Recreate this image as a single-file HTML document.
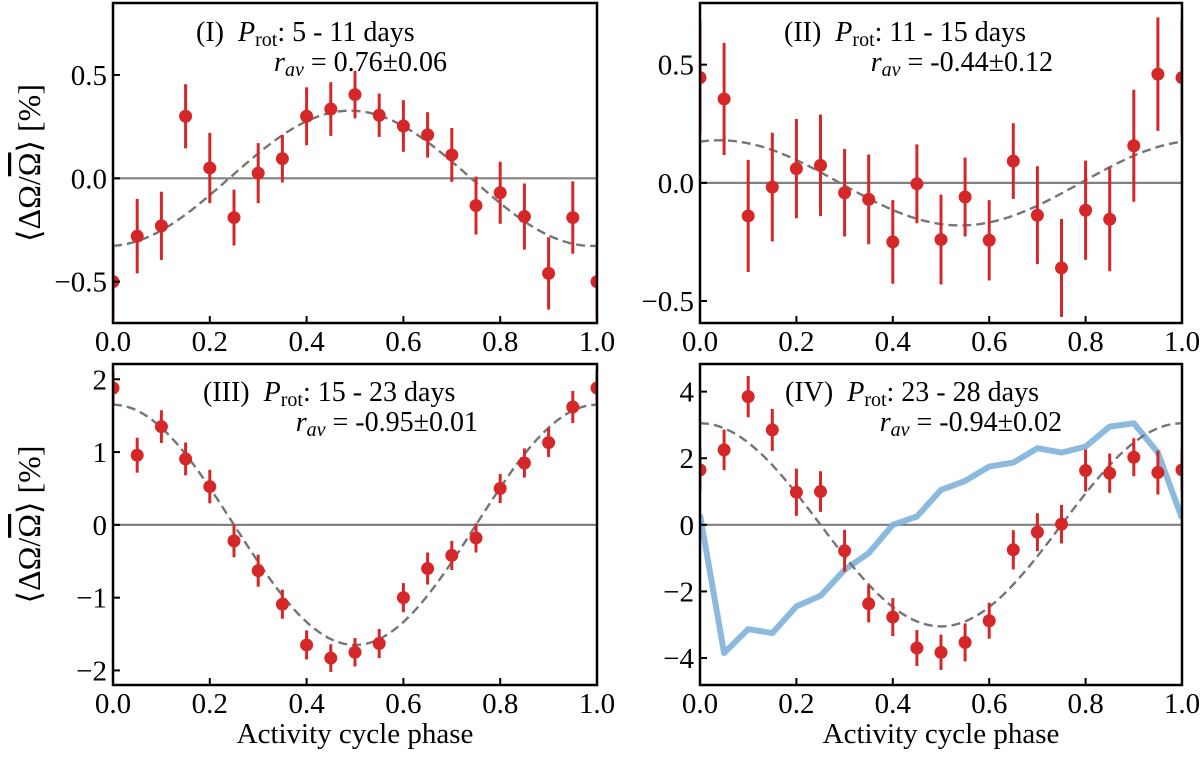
<!DOCTYPE html>
<html><head><meta charset="utf-8"><style>
html,body{margin:0;padding:0;background:#fff;}
svg, svg text{font-family:"Liberation Serif","DejaVu Serif",serif;}
</style></head><body>
<svg id="chart" width="1200" height="753" viewBox="0 0 1200 753" xmlns="http://www.w3.org/2000/svg" font-family="Liberation Serif, DejaVu Serif, serif"></svg>
<script>
const phases = [0,0.05,0.1,0.15,0.2,0.25,0.3,0.35,0.4,0.45,0.5,0.55,0.6,0.65,0.7,0.75,0.8,0.85,0.9,0.95,1.0];
const valsI = [-0.5,-0.28,-0.23,0.30,0.05,-0.19,0.025,0.095,0.30,0.335,0.405,0.305,0.253,0.21,0.113,-0.132,-0.07,-0.185,-0.46,-0.19,-0.5];
const errsI = [0.18,0.18,0.165,0.155,0.17,0.135,0.145,0.115,0.14,0.13,0.115,0.105,0.125,0.11,0.13,0.14,0.15,0.16,0.175,0.175,0.18];
const valsII = [0.445,0.355,-0.14,-0.018,0.06,0.074,-0.042,-0.07,-0.25,-0.004,-0.24,-0.06,-0.243,0.092,-0.137,-0.36,-0.116,-0.154,0.157,0.46,0.445];
const errsII = [0.24,0.237,0.237,0.23,0.21,0.215,0.185,0.19,0.177,0.167,0.19,0.167,0.17,0.16,0.207,0.207,0.21,0.22,0.237,0.24,0.24];
const valsIII = [1.88,0.957,1.35,0.906,0.526,-0.22,-0.63,-1.09,-1.65,-1.83,-1.75,-1.63,-1.0,-0.6,-0.42,-0.18,0.5,0.85,1.13,1.62,1.88];
const errsIII = [0.24,0.24,0.225,0.225,0.23,0.225,0.22,0.2,0.2,0.19,0.195,0.2,0.2,0.22,0.2,0.2,0.2,0.2,0.2,0.22,0.24];
const valsIV = [1.65,2.25,3.85,2.85,0.98,1.0,-0.78,-2.37,-2.77,-3.7,-3.83,-3.53,-2.88,-0.75,-0.22,0.02,1.63,1.55,2.03,1.57,1.65];
const errsIV = [0.62,0.61,0.62,0.63,0.71,0.61,0.63,0.56,0.57,0.54,0.53,0.57,0.54,0.59,0.57,0.58,0.63,0.59,0.57,0.66,0.62];
const blueIV = [0.3,-3.85,-3.13,-3.25,-2.45,-2.13,-1.35,-0.85,0,0.25,1.05,1.32,1.75,1.87,2.3,2.17,2.35,2.95,3.05,2.17,0.2];
const fitAmp = [0.327,0.18,1.65,3.05];
const fitPhase = [0.49,0.04,0.0,0.0];
const xTicks = [0,0.2,0.4,0.6,0.8,1.0];
const xTickLabels = ["0.0","0.2","0.4","0.6","0.8","1.0"];
const yTicksI = [-0.5,0,0.5]; const yLabI = ["\u22120.5","0.0","0.5"];
const yTicksII = [-0.5,0,0.5]; const yLabII = ["\u22120.5","0.0","0.5"];
const yTicksIII = [-2,-1,0,1,2]; const yLabIII = ["\u22122","\u22121","0","1","2"];
const yTicksIV = [-4,-2,0,2,4]; const yLabIV = ["\u22124","\u22122","0","2","4"];

const NS="http://www.w3.org/2000/svg";
const FF="Liberation Serif, DejaVu Serif, serif";
const svg=document.getElementById('chart');
function mk(tag,attrs,parent){const e=document.createElementNS(NS,tag);for(const k in attrs)e.setAttribute(k,attrs[k]);if(tag==='text')e.setAttribute('font-family',FF);(parent||svg).appendChild(e);return e;}

const panels=[
 {id:'i',x0:113,x1:597,y0:3,y1:323,ymin:-0.70,ymax:0.848,vals:valsI,errs:errsI,yt:yTicksI,yl:yLabI,label:'(I)',range:'5 - 11 days',r:'0.76\u00b10.06',tx:196,ty:41,rx:447,xlab:false},
 {id:'ii',x0:700,x1:1182,y0:3,y1:323,ymin:-0.593,ymax:0.761,vals:valsII,errs:errsII,yt:yTicksII,yl:yLabII,label:'(II)',range:'11 - 15 days',r:'-0.44\u00b10.12',tx:784,ty:41,rx:1053,xlab:false},
 {id:'iii',x0:113,x1:597,y0:364,y1:685,ymin:-2.20,ymax:2.21,vals:valsIII,errs:errsIII,yt:yTicksIII,yl:yLabIII,label:'(III)',range:'15 - 23 days',r:'-0.95\u00b10.01',tx:203,ty:401,rx:478,xlab:true},
 {id:'iv',x0:700,x1:1182,y0:364,y1:685,ymin:-4.81,ymax:4.83,vals:valsIV,errs:errsIV,yt:yTicksIV,yl:yLabIV,label:'(IV)',range:'23 - 28 days',r:'-0.94\u00b10.02',tx:785,ty:401,rx:1062,xlab:true}
];

panels.forEach((p,pi)=>{
  const X=v=>p.x0+(p.x1-p.x0)*v;
  const Y=v=>p.y1-(v-p.ymin)/(p.ymax-p.ymin)*(p.y1-p.y0);
  const g=mk('g',{});
  
  
  const defs=mk('defs',{},g);
  const cp=mk('clipPath',{id:'clip'+p.id},defs);
  mk('rect',{x:p.x0,y:p.y0,width:p.x1-p.x0,height:p.y1-p.y0},cp);
  const plot=mk('g',{'clip-path':'url(#clip'+p.id+')'},g);
  
  
  const z=mk('line',{x1:p.x0,x2:p.x1,y1:Y(0),y2:Y(0),stroke:'#808080','stroke-width':2.2},plot);
  
  
  if(p.id==='iv'){
    const pts=phases.map((x,i)=>X(x).toFixed(1)+','+Y(blueIV[i]).toFixed(1)).join(' ');
    const bl=mk('polyline',{points:pts,fill:'none',stroke:'#7fb2da','stroke-opacity':0.9,'stroke-width':6,'stroke-linejoin':'round'},plot);
    
    
  }
  let d='';
  for(let k=0;k<=200;k++){const x=k/200;const v=fitAmp[pi]*Math.cos(2*Math.PI*(x-fitPhase[pi]));d+=(k?'L':'M')+X(x).toFixed(1)+' '+Y(v).toFixed(1);}
  const fit=mk('path',{d:d,fill:'none',stroke:'#757575','stroke-width':2.4,'stroke-dasharray':'9,5'},plot);
  
  
  phases.forEach((x,i)=>{
    const v=p.vals[i],e=p.errs[i];
    const eb=mk('line',{x1:X(x),x2:X(x),y1:Y(v-e),y2:Y(v+e),stroke:'#d62728','stroke-width':3},plot);
    
    
    const c=mk('circle',{cx:X(x),cy:Y(v),r:6.5,fill:'#d62728'},plot);
    
    
  });
  const fr=mk('rect',{x:p.x0,y:p.y0,width:p.x1-p.x0,height:p.y1-p.y0,fill:'none',stroke:'#000','stroke-width':2.5},g);
  
  
  xTicks.forEach((t,i)=>{
    mk('line',{x1:X(t),x2:X(t),y1:p.y1,y2:p.y1-7,stroke:'#000','stroke-width':2},g);
    const tl=mk('text',{x:X(t),y:p.y1+28,'text-anchor':'middle','font-size':29},g);
    tl.textContent=xTickLabels[i];
    
    
  });
  p.yt.forEach((t,i)=>{
    mk('line',{x1:p.x0,x2:p.x0+7,y1:Y(t),y2:Y(t),stroke:'#000','stroke-width':2},g);
    const tl=mk('text',{x:p.x0-6,y:Y(t)+10,'text-anchor':'end','font-size':29},g);
    tl.textContent=p.yl[i];
    
    
  });
  const a1=mk('text',{x:p.tx,y:p.ty,'font-size':28},g);
  
  
  a1.innerHTML=p.label+'\u2002<tspan font-style="italic">P</tspan><tspan font-size="20" dy="5">rot</tspan><tspan dy="-5">: '+p.range+'</tspan>';
  const a2=mk('text',{x:p.rx,y:p.ty+30,'font-size':28,'text-anchor':'end'},g);
  
  
  a2.innerHTML='<tspan font-style="italic">r</tspan><tspan font-style="italic" font-size="20" dy="5">av</tspan><tspan dy="-5"> = '+p.r+'</tspan>';
  if(p.xlab){
    const xl=mk('text',{x:(p.x0+p.x1)/2,y:743,'text-anchor':'middle','font-size':29},g);
    xl.textContent='Activity cycle phase';
    
    
  }
  if(p.id==='i'||p.id==='iii'){
    const cy=(p.y0+p.y1)/2;
    const yl=mk('text',{x:0,y:0,'text-anchor':'middle','font-size':32,transform:'translate(40,'+cy+') rotate(-90)'},g);
    yl.innerHTML='\u27e8\u0394\u03a9/<tspan text-decoration="overline">\u03a9</tspan>\u27e9 [%]';
    
    
  }
});
</script>
</body></html>
